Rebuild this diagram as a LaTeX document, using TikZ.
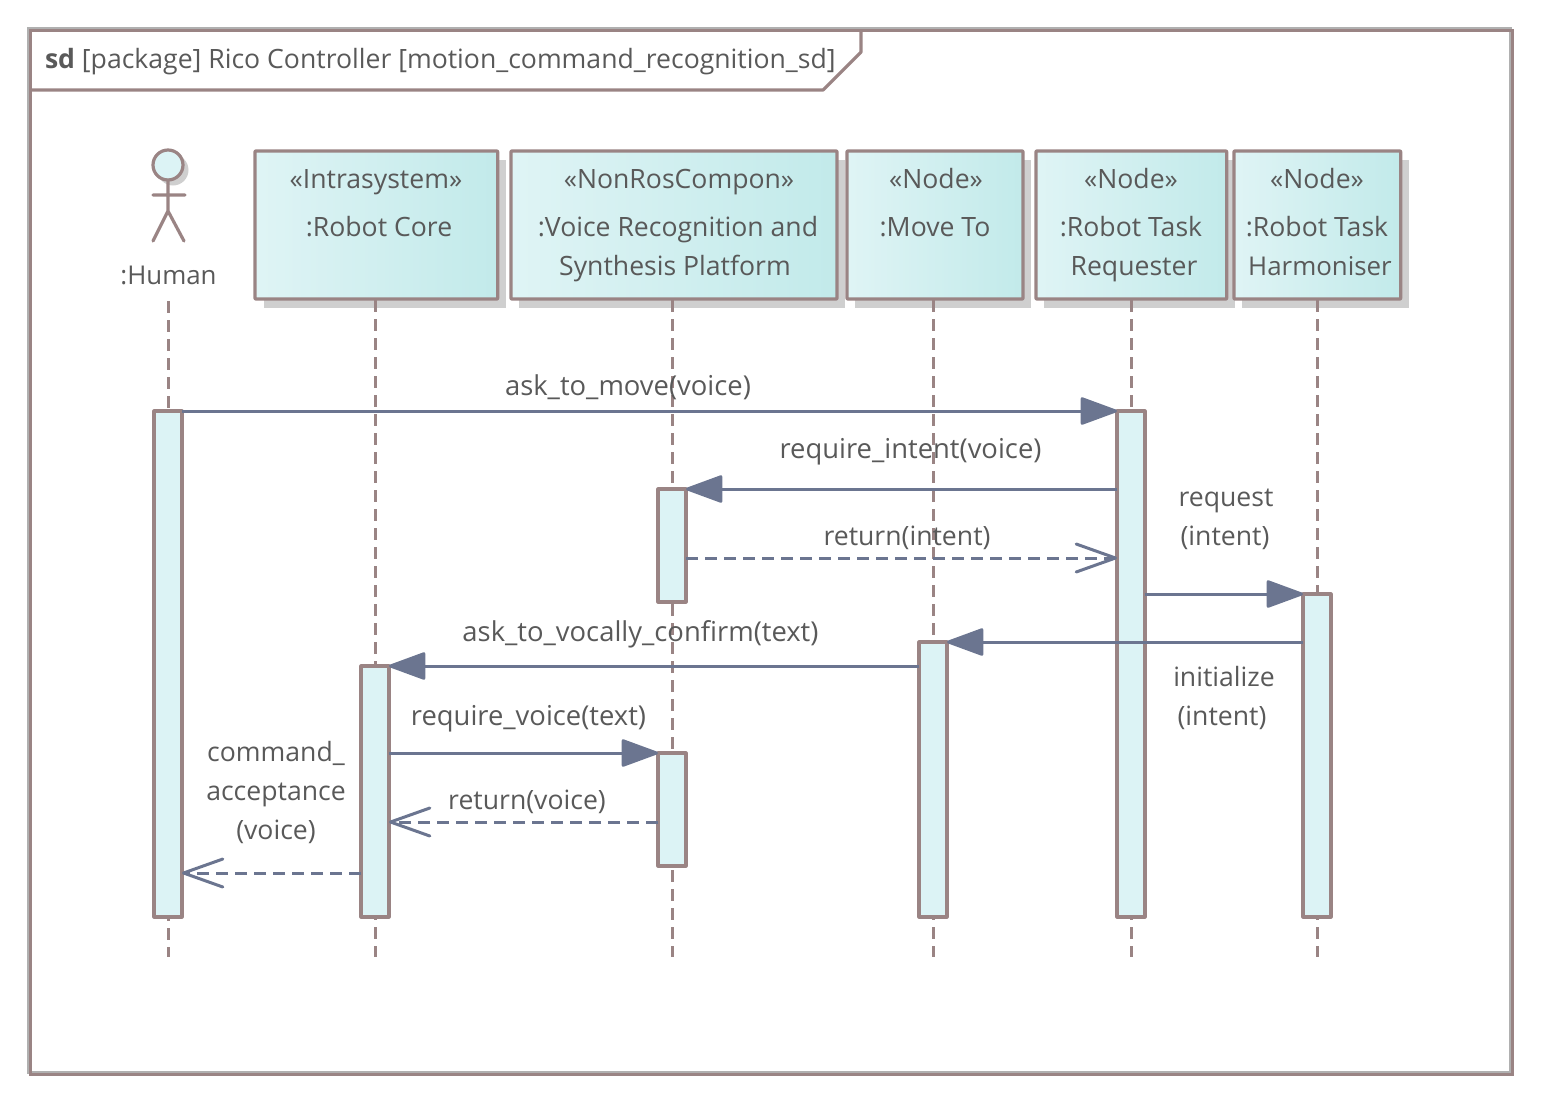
\documentclass[tikz,border=0pt]{standalone}
\usepackage{fontspec}
\setmainfont{Open Sans}
\usetikzlibrary{arrows.meta}
\definecolor{edgebrown}{HTML}{9A8484}
\definecolor{msgblue}{HTML}{6B7590}
\definecolor{txtgray}{HTML}{595959}
\definecolor{shadowgray}{HTML}{CFCFCF}
\definecolor{framegray}{HTML}{B0B0B0}
\definecolor{filla}{HTML}{DFF4F5}
\definecolor{fillb}{HTML}{C2EAEA}
\definecolor{barfill}{HTML}{DCF3F5}
\tikzset{
  px/.style={x=0.75pt,y=-0.75pt},
  every node/.style={outer sep=0pt},
  brown line/.style={draw=edgebrown,line width=2.4pt,line join=round},
  lifebox/.style={brown line,left color=filla,right color=fillb,shading angle=90,anchor=north west,inner sep=0pt,rounded corners=0.5pt},
  activation/.style={brown line,fill=barfill,anchor=north west,inner sep=0pt,minimum width=21pt},
  lifeline/.style={draw=edgebrown,line width=2.25pt,dash pattern=on 9pt off 5.25pt},
  msg/.style={draw=msgblue,line width=2.25pt},
  call/.style={msg,-{Triangle[length=29.5pt,width=21pt,fill=msgblue,round]}},
  reply/.style={msg,dash pattern=on 9pt off 5.25pt,-{Straight Barb[length=29.5pt,width=21pt,line width=2.25pt,round,sep=0pt]}},
  lbl/.style={text=txtgray,font=\fontsize{19.95pt}{24pt}\selectfont,inner sep=0pt,align=center,text height=18pt,text depth=4.5pt},
  lblwide/.style={lbl,font=\fontsize{20.55pt}{24pt}\selectfont},
  lblnarrow/.style={lbl,font=\fontsize{19.4pt}{24pt}\selectfont},
}
\begin{document}
\begin{tikzpicture}[px]
\useasboundingbox (0,0) rectangle (1542,1104);
% frame
\node[draw=framegray,line width=2.25pt,minimum width=1111.5pt,minimum height=783pt,inner sep=0pt,anchor=north west] (outerframe) at (28,28) {};
\node[draw=edgebrown,line width=2.4pt,minimum width=1111.5pt,minimum height=783pt,inner sep=0pt,anchor=north west] (frame) at (30.5,30.5) {};
\draw[brown line] (frame.west |- 0,90) -- (823,90) -- (861,52) -- (861,30.5);
\node[lbl,anchor=west] (title) at (45,59) {\textbf{sd} [package] Rico Controller [motion\_command\_recognition\_sd]};

% shadows
\fill[shadowgray] (264,160) rectangle (506,308);
\fill[shadowgray] (519,160) rectangle (845,308);
\fill[shadowgray] (855,160) rectangle (1031,308);
\fill[shadowgray] (1044,160) rectangle (1235,308);
\fill[shadowgray] (1242,160) rectangle (1409,308);

% lifeline heads
\node[lifebox,minimum width=182pt,minimum height=111pt] (rc) at (255,151) {};
\node[lifebox,minimum width=244.5pt,minimum height=111pt] (vr) at (511,151) {};
\node[lifebox,minimum width=132pt,minimum height=111pt] (mt) at (847,151) {};
\node[lifebox,minimum width=143pt,minimum height=111pt] (rr) at (1036,151) {};
\node[lifebox,minimum width=125pt,minimum height=111pt] (rh) at (1234,151) {};

\node[lbl] (rc1) at (376,179) {«Intrasystem»};
\node[lbl] (rc2) at (379,227) {:Robot Core};
\node[lbl] (vr1) at (679,179) {«NonRosCompon»};
\node[lbl] (vr2) at (678,227) {:Voice Recognition and};
\node[lbl] (vr3) at (675,266) {Synthesis Platform};
\node[lbl] (mt1) at (936,179) {«Node»};
\node[lbl] (mt2) at (935,227) {:Move To};
\node[lbl] (rr1) at (1131,179) {«Node»};
\node[lbl] (rr2) at (1131,227) {:Robot Task};
\node[lbl] (rr3) at (1134,266) {Requester};
\node[lbl] (rh1) at (1317,179) {«Node»};
\node[lbl] (rh2) at (1317,227) {:Robot Task};
\node[lblnarrow] (rh3) at (1320,266) {Harmoniser};

% actor
\fill[shadowgray] (173,170) circle[radius=15.5];
\draw[brown line,fill=barfill] (168,165) circle[radius=15];
\draw[brown line,line cap=round] (168,180) -- (168,211) (153,195) -- (185,195) (153,241) -- (168,211) -- (184,241);
\node[lblnarrow] (human) at (168.5,275) {:Human};

% lifelines
\coordinate (hb) at (168,301);
\coordinate (he) at (168,957);
\draw[lifeline] (hb) -- (he);
\draw[lifeline] (375,300) coordinate (l2) -- (375,957) coordinate (l2e);
\draw[lifeline] (672,300) coordinate (l3) -- (672,957) coordinate (l3e);
\draw[lifeline] (933,300) coordinate (l4) -- (933,957) coordinate (l4e);
\draw[lifeline] (1131,300) coordinate (l5) -- (1131,957) coordinate (l5e);
\draw[lifeline] (1317,300) coordinate (l6) -- (1317,957) coordinate (l6e);

% activations
\node[activation,minimum height=379.5pt] (ah) at (154,411) {};
\node[activation,minimum height=188.25pt] (arc) at (361,666) {};
\node[activation,minimum height=84.75pt] (av1) at (658,489) {};
\node[activation,minimum height=84.75pt] (av2) at (658,753) {};
\node[activation,minimum height=206.25pt] (amt) at (919,642) {};
\node[activation,minimum height=379.5pt] (arr) at (1117,411) {};
\node[activation,minimum height=242.25pt] (arh) at (1303,594) {};

% messages
\draw[call] (ah.north east) -- (arr.north west);
\draw[call] (arr.west |- av1.north) -- (av1.north east);
\coordinate (rin) at (686,558);
\draw[reply] (rin) -- (arr.west |- rin);
\draw[call] (arr.east |- arh.north) -- (arh.north west);
\draw[call] (arh.west |- amt.north) -- (amt.north east);
\draw[call] (amt.west |- arc.north) -- (arc.north east);
\draw[call] (arc.east |- av2.north) -- (av2.north west);
\coordinate (rvo) at (658,822);
\draw[reply] (rvo) -- (arc.east |- rvo);
\coordinate (rca) at (361,873);
\draw[reply] (rca) -- (ah.east |- rca);

% labels
\node[lblwide] (m1) at (628,386) {ask\_to\_move(voice)};
\node[lblwide] (m2) at (910.5,449) {require\_intent(voice)};
\node[lbl] (m3) at (907,536) {return(intent)};
\node[lbl] (m4) at (1226,497) {request};
\node[lbl] (m4b) at (1225,536) {(intent)};
\node[lblwide] (m5) at (640.5,632) {ask\_to\_vocally\_confirm(text)};
\node[lbl] (m6) at (1224,677) {initialize};
\node[lbl] (m6b) at (1222,716) {(intent)};
\node[lblwide] (m7) at (528.5,716) {require\_voice(text)};
\node[lbl] (m8) at (527,800) {return(voice)};
\node[lbl] (m9) at (276,752) {command\_};
\node[lbl] (m9b) at (276,791) {acceptance};
\node[lbl] (m9c) at (276,830) {(voice)};
\end{tikzpicture}
\end{document}
